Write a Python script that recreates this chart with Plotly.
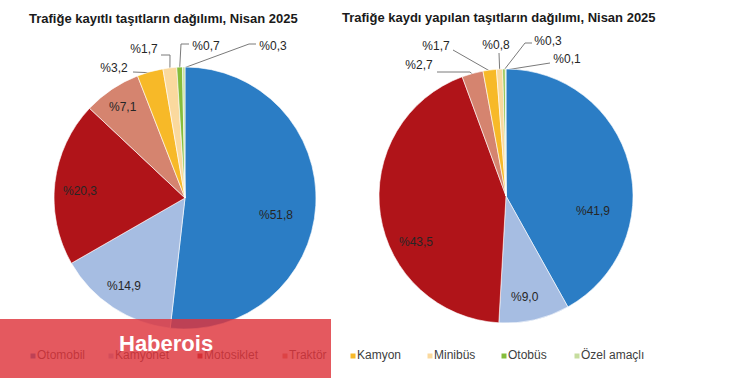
import math
import plotly.graph_objects as go

# ---------------- data ----------------
categories = ["Otomobil", "Kamyonet", "Motosiklet", "Traktör", "Kamyon", "Minibüs", "Otobüs", "Özel amaçlı"]
registered = [51.8, 14.9, 20.3, 7.1, 3.2, 1.7, 0.7, 0.3]          # Trafiğe kayıtlı, Nisan 2025 (%)
new_registrations = [41.9, 9.0, 43.5, 2.7, 1.7, 0.8, 0.3, 0.1]    # Trafiğe kaydı yapılan, Nisan 2025 (%)
titles = ["Trafiğe kayıtlı taşıtların dağılımı, Nisan 2025",
          "Trafiğe kaydı yapılan taşıtların dağılımı, Nisan 2025"]

# ---------------- style ----------------
colors = ["#2b7dc5", "#a6bde2", "#b01419", "#d5846f", "#f7b928", "#fad99e", "#85bd3b", "#c6dd9e"]
W, H = 750, 378
TXT = "#262626"
LINE = "#7a7a7a"
FONT = "Liberation Sans, Arial, sans-serif"
NARROW = "Liberation Sans Narrow, Arial Narrow, Liberation Sans, sans-serif"

def fmt(v):
    return "%" + f"{v:.1f}".replace(".", ",")

# pie geometry in pixels (center x, center y, radius), title position,
# inside-label positions, and outside-label placement: (text x, text y, leader-line points)
pies = [
    dict(values=registered, title=titles[0], cx=185, cy=198, r=131, tx=163, ty=18,
         inside={0: (276, 215), 1: (124, 286), 2: (80, 191), 3: (123, 107)},
         outside={4: (114, 69, [(133, 72)]),
                  5: (144, 50, [(161, 55), (170, 55)]),
                  6: (206, 47, [(189, 44), (181, 44)]),
                  7: (273, 47, [(256, 44), (249, 44)])}),
    dict(values=new_registrations, title=titles[1], cx=506, cy=196, r=127, tx=499, ty=17,
         inside={0: (593, 211), 1: (525, 297), 2: (416, 242)},
         outside={3: (419, 66, [(437, 72), (470, 72)]),
                  4: (436, 47, [(453, 50)]),
                  5: (496, 46, [(499, 53)]),
                  6: (548, 42, [(532, 43), (525, 43)]),
                  7: (567, 60, [(550, 63)])}),
]
legend_x = [33, 111, 200, 285, 353, 430, 504, 577]
legend_y = 356

fig = go.Figure()
annotations = []

# overlay pixel axes for leader lines, outside labels and legend
for p in pies:
    vals = p["values"]
    total = sum(vals)
    cum = 0.0
    for i, v in enumerate(vals):
        mid = (cum + v / 2) / total * 2 * math.pi
        cum += v
        if i in p["inside"]:
            lx, ly = p["inside"][i]
            annotations.append(dict(x=lx / W, y=1 - ly / H, xref="paper", yref="paper",
                                    text=fmt(v), showarrow=False, xanchor="center", yanchor="middle",
                                    font=dict(family=FONT, size=12, color=TXT)))
            continue
        ax = p["cx"] + (p["r"] - 1) * math.sin(mid)
        ay = p["cy"] - (p["r"] - 1) * math.cos(mid)
        tx, ty, pts = p["outside"][i]
        xs = [q[0] for q in pts] + [ax]
        ys = [q[1] for q in pts] + [ay]
        fig.add_trace(go.Scatter(x=xs, y=ys, mode="lines", line=dict(color=LINE, width=1),
                                 hoverinfo="skip", showlegend=False))
        fig.add_trace(go.Scatter(x=[tx], y=[ty], mode="text", text=[fmt(v)],
                                 textfont=dict(family=FONT, size=12, color=TXT),
                                 hoverinfo="skip", showlegend=False))

# legend
for cat, col, lx in zip(categories, colors, legend_x):
    fig.add_trace(go.Scatter(x=[lx], y=[legend_y], mode="markers",
                             marker=dict(symbol="square", size=5, color=col),
                             hoverinfo="skip", showlegend=False))
    fig.add_trace(go.Scatter(x=[lx + 4], y=[legend_y], mode="text", text=[cat],
                             textposition="middle right",
                             textfont=dict(family=NARROW, size=12, color="#404040"),
                             hoverinfo="skip", showlegend=False))

# pies
for p in pies:
    fig.add_trace(go.Pie(
        labels=categories, values=p["values"], sort=False, direction="clockwise", rotation=0,
        marker=dict(colors=colors, line=dict(color="white", width=0.6)),
        textinfo="none",
        domain=dict(x=[(p["cx"] - p["r"]) / W, (p["cx"] + p["r"]) / W],
                    y=[1 - (p["cy"] + p["r"]) / H, 1 - (p["cy"] - p["r"]) / H]),
        showlegend=False, hoverinfo="label+percent",
    ))

for p in pies:
    annotations.append(dict(x=p["tx"] / W, y=1 - p["ty"] / H, xref="paper", yref="paper",
                            text="<b>" + p["title"] + "</b>", showarrow=False,
                            xanchor="center", yanchor="middle",
                            font=dict(family=FONT, size=13, color="#1a1a1a")))
annotations.append(dict(x=166 / W, y=1 - 343 / H, xref="paper", yref="paper",
                        text="<b>Haberois</b>", showarrow=False, xanchor="center", yanchor="middle",
                        font=dict(family=FONT, size=22, color="white")))

fig.update_layout(
    width=W, height=H, margin=dict(l=0, r=0, t=0, b=0),
    paper_bgcolor="white", plot_bgcolor="rgba(0,0,0,0)",
    xaxis=dict(range=[0, W], visible=False, fixedrange=True, domain=[0, 1]),
    yaxis=dict(range=[H, 0], visible=False, fixedrange=True, domain=[0, 1]),
    shapes=[dict(type="rect", xref="paper", yref="paper", x0=0, x1=331 / W, y0=0, y1=1 - 319 / H,
                 fillcolor="rgba(222,52,60,0.82)", line=dict(width=0), layer="above")],
    annotations=annotations,
    showlegend=False,
)

fig.write_html("out.html")
